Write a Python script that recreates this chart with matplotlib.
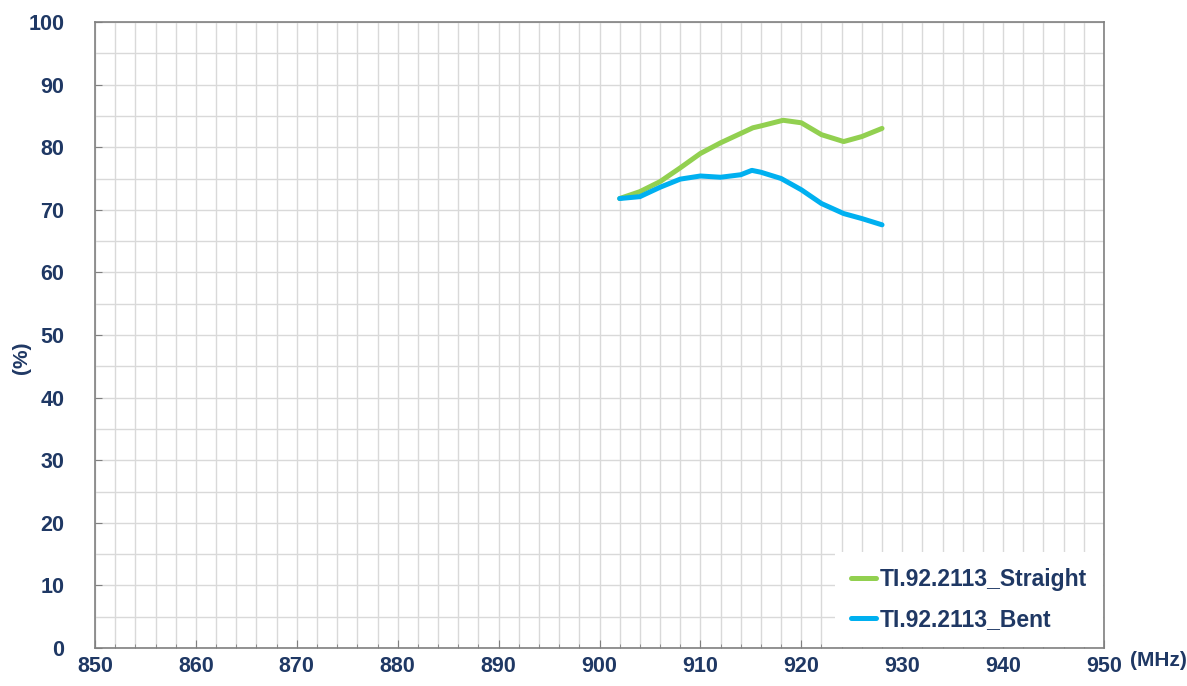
import matplotlib
matplotlib.use("Agg")
import matplotlib.pyplot as plt
from matplotlib.ticker import MultipleLocator

freq_straight = [902, 904, 906, 908, 910, 912, 914, 915.2, 916, 918.2, 920, 922, 924.2, 926, 928]
eff_straight = [71.8, 72.9, 74.5, 76.7, 79.0, 80.7, 82.2, 83.1, 83.4, 84.3, 83.9, 82.0, 80.9, 81.7, 83.0]
freq_bent = [902, 904, 906, 908, 910, 912, 914, 915.1, 916, 918, 920, 922, 924.2, 926, 928]
eff_bent = [71.8, 72.1, 73.6, 74.9, 75.4, 75.2, 75.6, 76.3, 76.0, 75.0, 73.2, 71.0, 69.4, 68.6, 67.6]
labels = ["TI.92.2113_Straight", "TI.92.2113_Bent"]

navy = "#1f3864"
plt.rcParams['font.family'] = ['Liberation Sans', 'DejaVu Sans']
plt.rcParams['font.weight'] = 'bold'

fig = plt.figure(figsize=(11.87, 6.86), dpi=100)
ax = fig.add_axes([95/1187, 1-648/686, (1104-95)/1187, (648-22)/686])

ax.plot(freq_straight, eff_straight, color="#92d050", lw=3.6, label=labels[0],
        solid_capstyle='round', solid_joinstyle='round')
ax.plot(freq_bent, eff_bent, color="#00b0f0", lw=3.6, label=labels[1],
        solid_capstyle='round', solid_joinstyle='round')

ax.set_xlim(850, 950)
ax.set_ylim(0, 100)
ax.xaxis.set_major_locator(MultipleLocator(10))
ax.xaxis.set_minor_locator(MultipleLocator(2))
ax.yaxis.set_major_locator(MultipleLocator(10))
ax.yaxis.set_minor_locator(MultipleLocator(5))
ax.grid(which='both', color='#d9d9d9', lw=1.0)
ax.set_axisbelow(True)
for s in ax.spines.values():
    s.set_color('#808080')
    s.set_linewidth(1.2)
ax.tick_params(axis='both', which='both', direction='in', colors='#808080',
               labelcolor=navy, labelsize=15.5)
ax.tick_params(axis='x', which='major', length=6, pad=6)
ax.tick_params(axis='x', which='minor', length=3)
ax.tick_params(axis='y', which='major', length=5, pad=22)
ax.tick_params(axis='y', which='minor', length=0)
for lab in ax.get_xticklabels() + ax.get_yticklabels():
    lab.set_fontweight('bold')

fig.text(22/1187, 1-358/686, "(%)", rotation=90, ha='center', va='center',
         color=navy, fontsize=15, fontweight='bold')
fig.text(1158/1187, 1-660/686, "(MHz)", ha='center', va='center',
         color=navy, fontsize=15, fontweight='bold')

leg = ax.legend(loc='lower right', frameon=True, fancybox=False, framealpha=1,
                facecolor='white', edgecolor='none', handlelength=1.1,
                handletextpad=0.15, borderpad=0.7, labelspacing=0.75,
                borderaxespad=0.05, prop={'size': 16.5, 'weight': 'bold'})
for t in leg.get_texts():
    t.set_color(navy)
leg.get_frame().set_linewidth(0)

fig.savefig("out.png", dpi=100)
